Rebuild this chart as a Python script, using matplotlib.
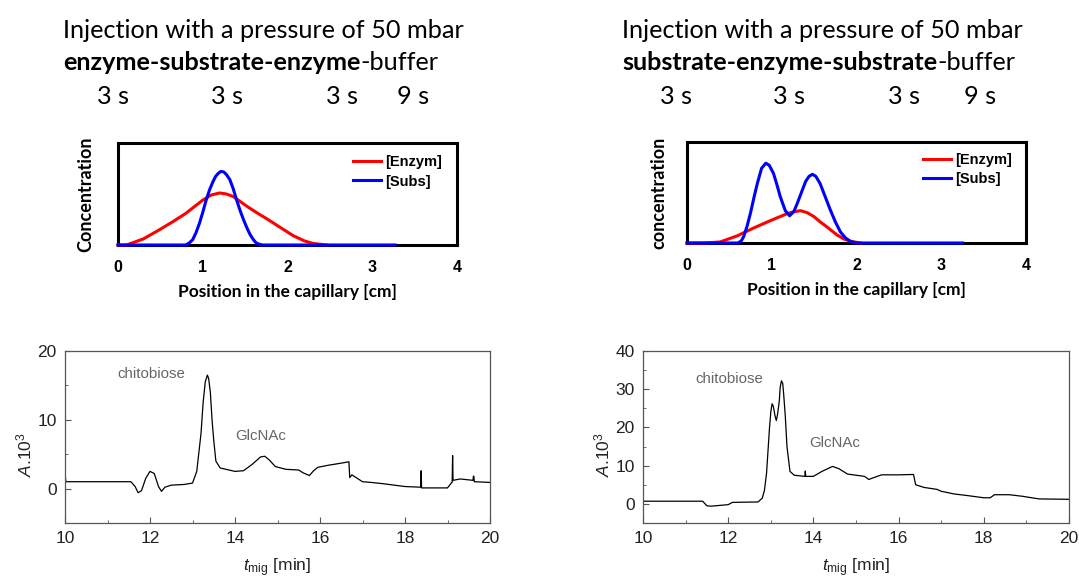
import matplotlib
matplotlib.use("Agg")
import matplotlib.pyplot as plt
from matplotlib.ticker import MultipleLocator

plt.rcParams['mathtext.fontset'] = 'custom'
plt.rcParams['mathtext.rm'] = 'Liberation Sans'
plt.rcParams['mathtext.it'] = 'Liberation Sans:italic'

W, H = 1079, 579

# ---------------- data ----------------
# Top-left: enzyme-substrate-enzyme (relative concentration vs position, cm)
esE_x = [0.0, 0.1, 0.3, 0.49, 0.65, 0.8, 1.0, 1.1, 1.2, 1.28, 1.36, 1.52, 1.65, 1.75, 1.9, 2.07, 2.2, 2.3, 2.46]
esE_y = [0.0, 0.0, 0.06, 0.15, 0.23, 0.31, 0.44, 0.49, 0.51, 0.50, 0.475, 0.38, 0.31, 0.26, 0.18, 0.09, 0.04, 0.016, 0.0]
esS_x = [0.0, 0.8, 0.84, 0.88, 0.92, 0.96, 1.0, 1.04, 1.08, 1.12, 1.15, 1.18, 1.21, 1.23, 1.25, 1.28, 1.32,
         1.36, 1.4, 1.44, 1.48, 1.52, 1.56, 1.6, 1.63, 1.67, 1.71, 3.27]
esS_y = [0.0, 0.0, 0.02, 0.05, 0.12, 0.21, 0.32, 0.44, 0.54, 0.62, 0.67, 0.70, 0.72, 0.72, 0.715, 0.69, 0.64,
         0.55, 0.44, 0.34, 0.25, 0.17, 0.10, 0.05, 0.02, 0.006, 0.0, 0.0]

# Top-right: substrate-enzyme-substrate
seE_x = [0.0, 0.2, 0.39, 0.59, 0.79, 0.98, 1.18, 1.26, 1.34, 1.42, 1.5, 1.57, 1.65, 1.77, 1.85, 1.93, 2.05]
seE_y = [0.0, 0.0, 0.01, 0.07, 0.15, 0.22, 0.29, 0.31, 0.32, 0.30, 0.26, 0.21, 0.16, 0.08, 0.04, 0.016, 0.0]
seS_x = [0.0, 0.6, 0.64, 0.67, 0.71, 0.75, 0.79, 0.83, 0.88, 0.93, 0.97, 1.02, 1.06, 1.1, 1.16, 1.21, 1.26,
         1.3, 1.35, 1.4, 1.44, 1.48, 1.52, 1.57, 1.63, 1.69, 1.75, 1.81, 1.87, 1.93, 2.0, 3.25]
seS_y = [0.0, 0.0, 0.02, 0.066, 0.17, 0.30, 0.45, 0.59, 0.74, 0.79, 0.77, 0.69, 0.58, 0.46, 0.32, 0.27, 0.31,
         0.39, 0.50, 0.61, 0.66, 0.68, 0.66, 0.59, 0.46, 0.33, 0.21, 0.11, 0.05, 0.016, 0.0, 0.0]

# Bottom-left electropherogram (t_mig [min], A*10^3)
eL_t = [10.0, 10.01, 10.02, 11.0, 11.55, 11.65, 11.72, 11.8, 11.9, 12.0, 12.1, 12.2, 12.27, 12.35, 12.5,
        12.8, 13.0, 13.1, 13.2, 13.25, 13.3, 13.35, 13.38, 13.42, 13.46, 13.5, 13.55, 13.65, 14.0, 14.2,
        14.4, 14.6, 14.7, 14.8, 14.95, 15.2, 15.5, 15.6, 15.75, 15.85, 15.95, 16.2, 16.5, 16.68, 16.7,
        16.75, 16.8, 17.0, 17.2, 17.5, 18.0, 18.37, 18.38, 18.39, 19.0, 19.1, 19.11, 19.12, 19.13, 19.3,
        19.6, 19.61, 19.62, 19.63, 20.0]
eL_a = [1.0, 1.6, 1.0, 1.0, 1.0, 0.3, -0.6, -0.3, 1.5, 2.5, 2.2, 0.3, -0.4, 0.2, 0.5,
        0.6, 0.8, 2.5, 8.0, 12.5, 15.5, 16.5, 16.0, 14.0, 10.0, 7.0, 4.0, 3.0, 2.5, 2.6,
        3.5, 4.6, 4.7, 4.2, 3.2, 2.8, 2.7, 2.3, 1.9, 2.6, 3.1, 3.4, 3.7, 3.9, 1.6,
        2.0, 1.8, 1.0, 0.9, 0.7, 0.3, 0.2, 2.6, 0.1, 0.1, 0.9, 0.9, 4.8, 1.2, 1.4,
        1.2, 1.8, 1.8, 1.0, 0.9]

# Bottom-right electropherogram
eR_t = [10.0, 11.4, 11.5, 11.6, 12.0, 12.1, 12.7, 12.8, 12.85, 12.9, 12.97, 13.0, 13.03, 13.06, 13.1,
        13.13, 13.16, 13.2, 13.22, 13.25, 13.28, 13.3, 13.34, 13.38, 13.45, 13.55, 13.8, 13.81, 13.82, 14.0,
        14.2, 14.45, 14.6, 14.8, 15.0, 15.2, 15.3, 15.4, 15.6, 16.0, 16.35, 16.4, 16.6, 16.9, 17.0,
        17.3, 17.6, 18.0, 18.15, 18.25, 18.6, 18.9, 19.3, 20.0]
eR_a = [0.7, 0.7, -0.5, -0.6, -0.2, 0.4, 0.5, 1.5, 3.5, 8.0, 20.0, 24.0, 26.2, 25.5, 23.0,
        21.8, 23.5, 27.0, 30.5, 32.2, 31.5, 29.0, 23.0, 15.0, 8.5, 7.5, 7.2, 8.6, 7.2, 7.2,
        8.5, 9.8, 9.2, 7.8, 7.5, 7.2, 6.4, 6.8, 7.6, 7.6, 7.7, 5.0, 4.3, 3.8, 3.3,
        2.6, 2.2, 1.6, 1.6, 2.4, 2.4, 2.0, 1.3, 1.2]

pos_ticks = [0, 1, 2, 3, 4]
t_ticks = [10, 12, 14, 16, 18, 20]

titles_left = ["Injection with a pressure of 50 mbar", "enzyme-substrate-enzyme", "-buffer"]
titles_right = ["Injection with a pressure of 50 mbar", "substrate-enzyme-substrate", "-buffer"]
times = ["3 s", "3 s", "3 s", "9 s"]

# ---------------- figure ----------------
fig = plt.figure(figsize=(W / 100, H / 100), dpi=100)


def rect(l, t, r, b):
    return [l / W, 1 - b / H, (r - l) / W, (b - t) / H]


def px(x, y):
    return x / W, 1 - y / H


TFONT = 'Lato'
TSIZE = 18.2
RED = '#ff0000'
BLUE = '#0000ff'


def conc_panel(r, ex, ey, sx, sy, ylabel, ylab_x, leg_anchor):
    ax = fig.add_axes(rect(*r))
    ax.set_xlim(0, 4)
    ax.set_ylim(0, 1)
    for s in ax.spines.values():
        s.set_linewidth(2.2)
        s.set_color('black')
    ax.plot(ex, ey, color=RED, lw=2.2, label='[Enzym]', clip_on=False, zorder=5,
            solid_joinstyle='round')
    ax.plot(sx, sy, color=BLUE, lw=2.2, label='[Subs]', clip_on=False, zorder=6,
            solid_joinstyle='round')
    ax.set_yticks([])
    ax.set_xticks(pos_ticks)
    ax.tick_params(axis='x', length=0, pad=11)
    for lab in ax.get_xticklabels():
        lab.set_fontfamily('Liberation Sans')
        lab.set_fontweight('bold')
        lab.set_fontsize(11.5)
    ax.set_xlabel('Position in the capillary [cm]', fontfamily=TFONT, fontweight='bold',
                  fontsize=12.5, labelpad=6)
    fig.text(ylab_x / W, 1 - (r[1] + r[3]) / 2 / H, ylabel, rotation=90, ha='center', va='center',
             fontfamily=TFONT, fontweight='bold', fontsize=13)
    ax.legend(loc='upper left', bbox_to_anchor=leg_anchor, frameon=False, borderpad=0,
              borderaxespad=0, handlelength=1.9, handletextpad=0.3, labelspacing=0.4,
              prop={'family': 'Liberation Sans', 'weight': 'bold', 'size': 10.5})
    return ax


conc_panel((118, 143, 457, 245), esE_x, esE_y, esS_x, esS_y, 'Concentration', 86, (0.693, 0.885))
conc_panel((687, 142, 1026, 243), seE_x, seE_y, seS_x, seS_y, 'concentration', 659, (0.696, 0.895))


def title_block(x0, lines, tpos):
    fig.text(*px(x0, 30), lines[0], fontfamily=TFONT, fontsize=TSIZE, va='center', ha='left')
    t = fig.text(*px(x0, 63), lines[1], fontfamily=TFONT, fontsize=TSIZE, fontweight='bold',
                 va='center', ha='left')
    fig.canvas.draw()
    bb = t.get_window_extent()
    fig.text(bb.x1 / W, 1 - 63 / H, lines[2], fontfamily=TFONT, fontsize=TSIZE, va='center', ha='left')
    for xx, s in zip(tpos, times):
        fig.text(*px(xx, 97), s, fontfamily=TFONT, fontsize=TSIZE, va='center', ha='center')


title_block(63, titles_left, [113, 227, 342, 413])
title_block(622, titles_right, [676, 789, 904, 980])


def ephe_panel(r, t, a, ylim, yticks, labels):
    ax = fig.add_axes(rect(*r))
    ax.plot(t, a, color='black', lw=0.9)
    ax.set_xlim(10, 20)
    ax.set_ylim(*ylim)
    ax.set_xticks(t_ticks)
    ax.set_yticks(yticks)
    ax.xaxis.set_minor_locator(MultipleLocator(1))
    ax.yaxis.set_minor_locator(MultipleLocator((yticks[1] - yticks[0]) / 2))
    for s in ax.spines.values():
        s.set_linewidth(0.9)
        s.set_color('#555555')
    ax.tick_params(which='both', direction='in', colors='#555555', labelcolor='#222222',
                   labelsize=12.5)
    ax.tick_params(which='major', length=4, pad=6)
    ax.tick_params(which='minor', length=2.5)
    for lab in ax.get_xticklabels() + ax.get_yticklabels():
        lab.set_fontfamily('Liberation Sans')
    ax.set_xlabel(r'$t_{\rm mig}$ [min]', fontfamily='Liberation Sans', fontsize=12.5,
                  color='#222222', labelpad=7)
    ax.set_ylabel(r'$A$.10$^3$', fontfamily='Liberation Sans', fontsize=12.5, color='#222222')
    ax.yaxis.set_label_coords(-0.072, 0.40)
    for (txt, x, y) in labels:
        ax.text(x, y, txt, fontfamily='Liberation Sans', fontsize=10.8, color='#666666',
                ha='center', va='center')
    return ax


ephe_panel((65, 351, 490, 523), eL_t, eL_a, (-5, 20), [0, 10, 20],
           [('chitobiose', 12.04, 16.7), ('GlcNAc', 14.6, 7.6)])
ephe_panel((643, 351, 1069, 523), eR_t, eR_a, (-5, 40), [0, 10, 20, 30, 40],
           [('chitobiose', 12.03, 32.8), ('GlcNAc', 14.5, 16.0)])

fig.savefig('out.png', dpi=100)
